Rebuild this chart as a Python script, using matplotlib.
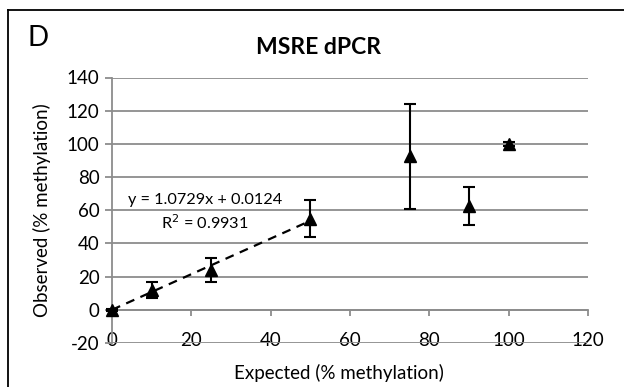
import matplotlib
matplotlib.use('Agg')
import matplotlib.pyplot as plt
from matplotlib.lines import Line2D

# data
expected = [0, 10, 25, 50, 75, 90, 100]
observed = [0, 12, 24, 55, 92.5, 62.5, 100]
errors = [0.5, 5, 7, 11, 31.5, 11.5, 1]

slope = 1.0729
intercept = 0.0124
fit_x = [0, 50]
r_squared = 0.9931

GRID = '#8c8c8c'

plt.rcParams['font.family'] = ['Lato', 'DejaVu Sans']
plt.rcParams['axes.unicode_minus'] = False

fig = plt.figure(figsize=(6.24, 3.87), dpi=100)
ax = fig.add_axes([112 / 624, 1 - 343 / 387, 476 / 624, 265.5 / 387])

ax.set_xlim(0, 120)
ax.set_ylim(-20, 140)
ax.set_xticks(range(0, 121, 20))
ax.set_yticks(range(-20, 141, 20))

ax.grid(axis='y', color=GRID, linewidth=1.3)
ax.set_axisbelow(True)

for s in ['top', 'right']:
    ax.spines[s].set_visible(False)
ax.spines['bottom'].set_position(('data', 0))
ax.spines['bottom'].set_color(GRID)
ax.spines['bottom'].set_linewidth(1.3)
ax.spines['left'].set_color(GRID)
ax.spines['left'].set_linewidth(1.3)
ax.tick_params(axis='x', direction='out', length=4, width=1.3, color=GRID,
               pad=12, labelsize=13.5)
ax.tick_params(axis='y', direction='out', length=5, width=1.3, color=GRID,
               pad=4, labelsize=13.5)

# trendline
fit_y = [slope * x + intercept for x in fit_x]
ax.plot(fit_x, fit_y, color='black', linestyle=(0, (4, 3)), linewidth=1.6, zorder=3)

ax.errorbar(expected, observed, yerr=errors, fmt='^', color='black',
            markersize=9, ecolor='black', elinewidth=1.5, capsize=4.3,
            capthick=1.5, zorder=4, clip_on=False)

ax.text(23.6, 66, f'y = {slope}x + {intercept}', fontsize=11.7, ha='center', va='center')
ax.text(23.4, 52.5, f'R$^2$ = {r_squared}', fontsize=11.7, ha='center', va='center')

fig.text(319 / 624, 1 - 47 / 387, 'MSRE dPCR', fontsize=16.5, fontweight='bold',
         ha='center', va='center')
ax.set_xlabel('Expected (% methylation)', fontsize=13.5, va='center')
ax.set_ylabel('Observed (% methylation)', fontsize=13.5, va='center')
ax.xaxis.set_label_coords((339 - 112) / 476, (343 - 373) / 265.5)
ax.yaxis.set_label_coords((42 - 112) / 476, 0.5)

fig.text(27 / 624, 1 - 37.5 / 387, 'D', fontsize=20, ha='left', va='center')

# outer frame (left and top edges)
fig.add_artist(Line2D([8 / 624, 8 / 624], [0, 1 - 10 / 387], color='black',
                      linewidth=1.3, transform=fig.transFigure))
fig.add_artist(Line2D([8 / 624, 1], [1 - 10 / 387, 1 - 10 / 387], color='black',
                      linewidth=1.3, transform=fig.transFigure))

fig.savefig('out.png', dpi=100)
